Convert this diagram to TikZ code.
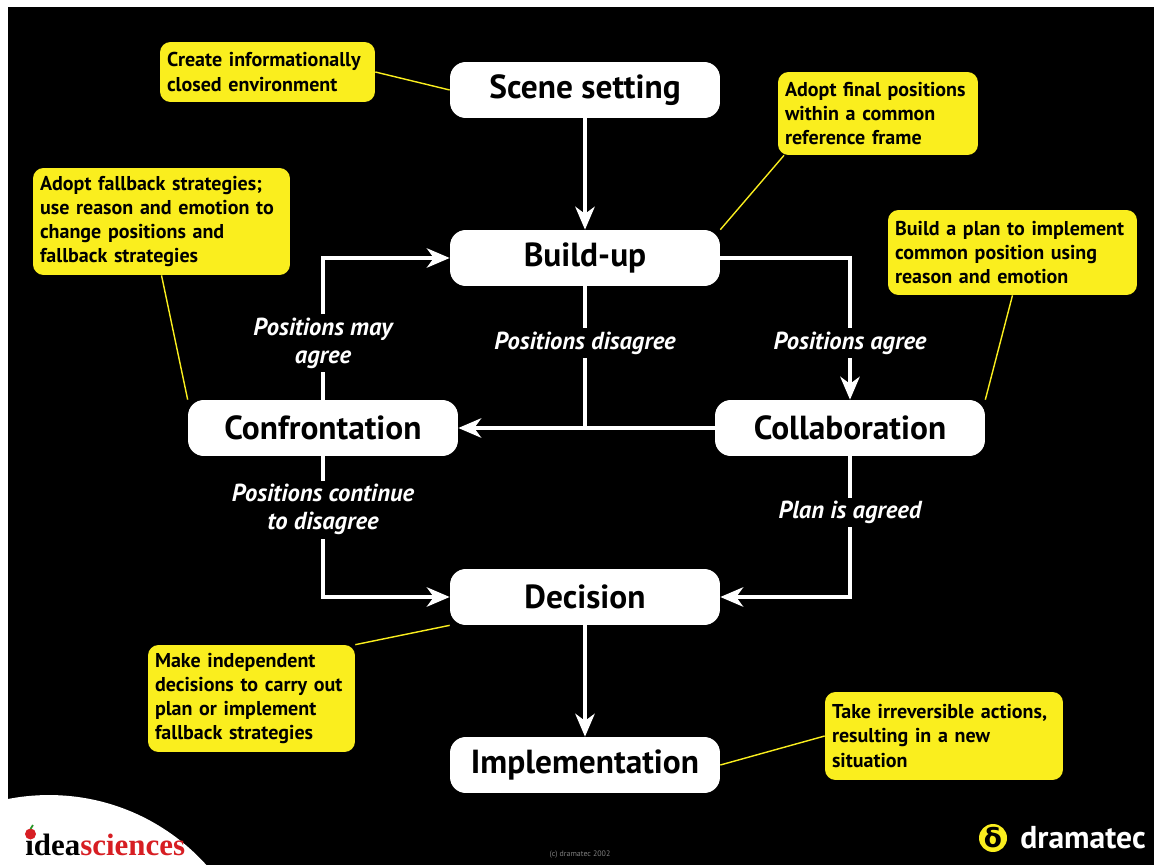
\documentclass[tikz,border=0pt]{standalone}
\usepackage{fontspec}
\setmainfont{PT Sans}
\setsansfont{PT Sans}
\newfontfamily\logoserif{Liberation Serif}
\newfontfamily\greekfont{DejaVu Sans}
\usetikzlibrary{arrows.meta,backgrounds}

\definecolor{notey}{RGB}{250,238,30}
\definecolor{ideared}{RGB}{215,30,35}
\definecolor{leafgreen}{RGB}{40,150,40}
\tikzset{stage/.style={fill=white, rounded corners=9pt, minimum width=5.4cm, minimum height=1.12cm, inner sep=0pt, font=\bfseries\fontsize{19}{22}\selectfont},
% yellow notes, argument is the text width
note/.style={fill=notey, rounded corners=6pt, align=left, text width=#1, inner xsep=0.14cm, font=\bfseries\fontsize{11.4}{13.8}\selectfont},
flow/.style={draw=white, line width=2.8pt, -{Stealth[length=13pt, width=11pt, inset=4pt]}},
link/.style={draw=notey, line width=0.8pt},
cond/.style={fill=black, text=white, align=center, inner sep=2pt, font=\bfseries\itshape\fontsize{14}{16}\selectfont}}

\begin{document}
\begin{tikzpicture}[x=0.02cm, y=-0.02cm]
    \useasboundingbox (0,0) rectangle (1154,865);
    % stages
    \node[stage] (scene) at (585,90) {Scene setting};
    \node[stage] (bu) at (585,258) {Build-up};
    \node[stage] (conf) at (323,428) {Confrontation};
    \node[stage] (collab) at (850,428) {Collaboration};
    \node[stage] (dec) at (585,597) {Decision};
    \node[stage] (impl) at (585,765) {Implementation};
    % notes
    \node[note=4.02cm, minimum height=1.2cm] (create) at (267.5,72) {Create informationally\\closed environment};
    \node[note=3.72cm, minimum height=1.66cm] (final) at (878,113.5) {Adopt final positions\\within a common\\reference frame};
    \node[note=4.86cm, minimum height=2.14cm] (fallback) at (161.5,221.5) {Adopt fallback strategies;\\use reason and emotion to\\change positions and\\fallback strategies};
    \node[note=4.7cm, minimum height=1.7cm] (plan) at (1012.5,252.5) {Build a plan to implement\\common position using\\reason and emotion};
    \node[note=3.86cm, minimum height=2.14cm] (indep) at (251.5,698.5) {Make independent\\decisions to carry out\\plan or implement\\fallback strategies};
    \node[note=4.48cm, minimum height=1.76cm] (take) at (944,736) {Take irreversible actions,\\resulting in a new\\situation};
    % flows
    \draw[flow] (scene) -- (bu);
    \draw[flow] (bu.east) -| node[cond, pos=0.8] {Positions agree} (collab.north);
    \draw[draw=white, line width=2.8pt] (bu.south) -- node[cond, pos=0.4] {Positions disagree} (bu.south |- conf.east);
    \draw[flow] (collab.west) -- (conf.east);
    \draw[flow] (conf.north) |- node[cond, pos=0.2] {Positions may\\agree} (bu.west);
    \draw[flow] (conf.south) |- node[cond, pos=0.19] {Positions continue\\to disagree} (dec.west);
    \draw[flow] (collab.south) |- node[cond, pos=0.2] {Plan is agreed} (dec.east);
    \draw[flow] (dec) -- (impl);
    % logos
    \node[anchor=base west, inner sep=0pt, font=\logoserif\bfseries\fontsize{17.6}{18}\selectfont] (idea) at (25,855) {\i dea\textcolor{ideared}{sciences}};
    \fill[ideared] (30.5,834) circle[radius=0.11cm];
    \draw[leafgreen, line width=1pt] (30.5,829) -- (33,825);
    \node[circle, fill=notey, minimum size=0.56cm, inner sep=0pt, font=\greekfont\bfseries\fontsize{15}{15}\selectfont] (delta) at (993,838) {δ};
    \node[anchor=west, inner sep=0pt, text=white, font=\bfseries\fontsize{18}{18}\selectfont] (brand) at (1020,838) {dramatec};
    \node[text=gray, font=\fontsize{4.5}{5}\selectfont] (copy) at (580,855) {(c) dramatec 2002};
    \begin{scope}[on background layer]
        \fill[black] (8,7) rectangle (1154,865);
        \begin{scope}
            \clip (8,7) rectangle (1154,865);
            \fill[white] (49,1007) circle[radius=4.24cm];
        \end{scope}
        \draw[link] (create.east) -- (scene.west);
        \draw[link] (final.204) -- (bu.north east);
        \draw[link] (fallback.south) -- (conf.north west);
        \draw[link] (plan.south) -- (collab.north east);
        \draw[link] (indep.north east) -- (dec.south west);
        \draw[link] (take.west) -- (impl.east);
    \end{scope}
\end{tikzpicture}
\end{document}
